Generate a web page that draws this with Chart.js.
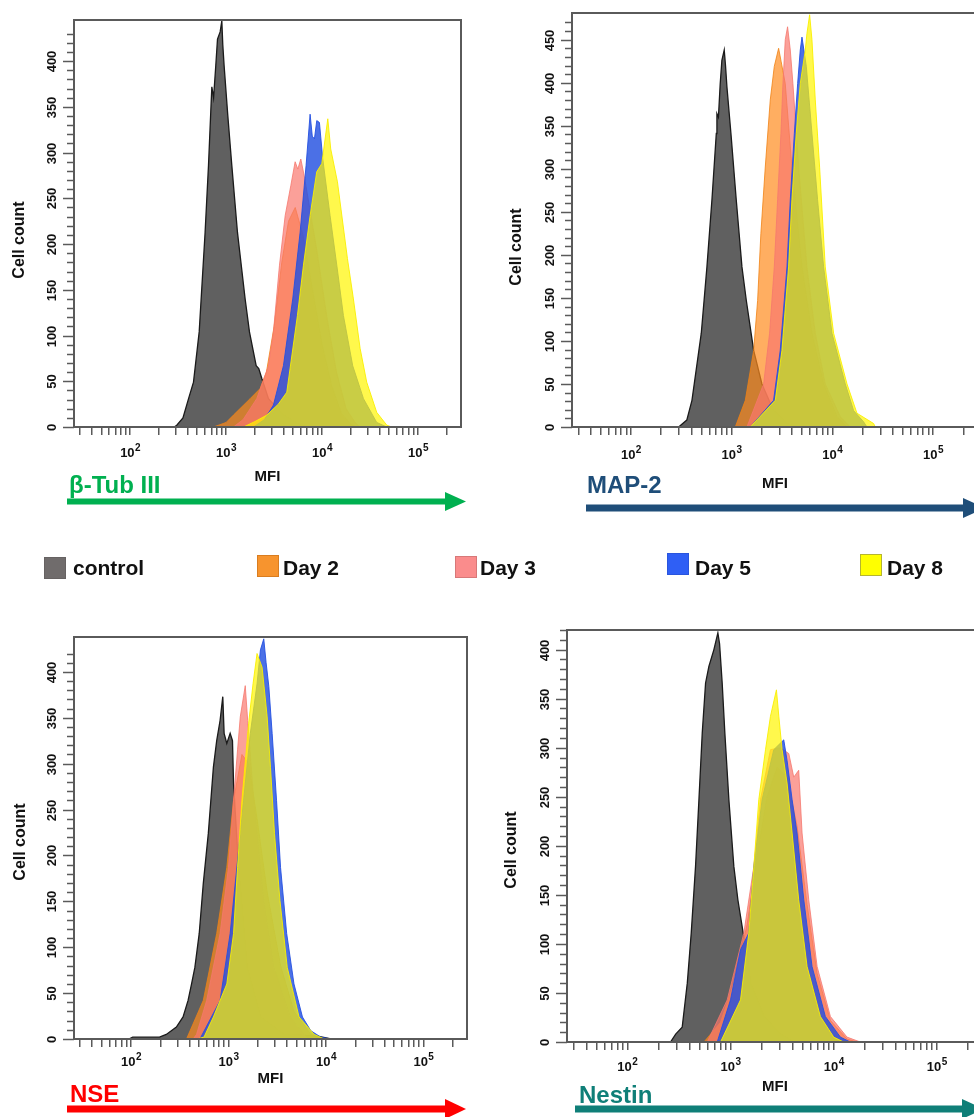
<!DOCTYPE html>
<html>
<head>
<meta charset="utf-8">
<script src="https://cdn.jsdelivr.net/npm/chart.js@4.4.1/dist/chart.umd.min.js"></script>
<style>
  html, body { margin: 0; padding: 0; background: #fff; overflow: hidden; }
  #pagina { position: relative; width: 974px; height: 1117px; overflow: hidden; font-family: "Liberation Sans", Arial, sans-serif; }
  canvas { position: absolute; }
  svg { position: absolute; left: 0; top: 0; }
  .caja { position: absolute; width: 22px; height: 22px; box-sizing: border-box; border: 1px solid; }
  .texto { position: absolute; top: 556px; line-height: 24px; font-size: 21px; font-weight: bold; color: #111; white-space: nowrap; }
</style>
</head>
<body>
<div id="pagina">
  <canvas id="tub" width="487" height="490" style="left:0;top:0"></canvas>
  <canvas id="map" width="500" height="497" style="left:487px;top:0"></canvas>
  <canvas id="nse" width="487" height="492" style="left:0;top:600px"></canvas>
  <canvas id="nes" width="500" height="500" style="left:487px;top:600px"></canvas>

  <svg width="974" height="1117">
    <g font-family="Liberation Sans, Arial, sans-serif" font-weight="bold" font-size="24">
      <text x="69" y="493" fill="#00b050">β-Tub III</text>
      <line x1="67" y1="501.5" x2="449" y2="501.5" stroke="#00b050" stroke-width="6"/>
      <polygon points="445,492 466,501.5 445,511" fill="#00b050"/>

      <text x="587" y="493" fill="#1f4e79">MAP-2</text>
      <line x1="586" y1="508" x2="966" y2="508" stroke="#1f4e79" stroke-width="7"/>
      <polygon points="963,498 985,508 963,518" fill="#1f4e79"/>

      <text x="70" y="1102" fill="#ff0000">NSE</text>
      <line x1="67" y1="1109" x2="449" y2="1109" stroke="#ff0000" stroke-width="7"/>
      <polygon points="445,1099 466,1109 445,1119" fill="#ff0000"/>

      <text x="579" y="1103" fill="#0f7f78">Nestin</text>
      <line x1="575" y1="1109" x2="965" y2="1109" stroke="#0f7f78" stroke-width="7"/>
      <polygon points="962,1099 984,1109 962,1119" fill="#0f7f78"/>
    </g>
  </svg>
</div>

<script>
// DATOS:

const nombres = ['control', 'Day 2', 'Day 3', 'Day 5', 'Day 8'];

// eje X (MFI, escala log)
const decadas = [100, 1000, 10000, 100000];
const exponentes = ['2', '3', '4', '5'];
const pasosLog = [1, 2, 3, 4, 5, 6, 7, 8, 9];
const potencias = [10, 100, 1000, 10000, 100000];

// beta-Tub III  [MFI, cell count]
const tubControl = [[288,0],[306,2],[355,10],[406,31],[457,49],[524,104],[604,213],[655,286],[692,345],[710,372],[740,360],[780,395],[813,424],[866,432],[902,444],[923,418],[953,395],[1040,341],[1146,286],[1312,213],[1578,140],[1750,104],[2056,67],[2188,64],[2355,53],[2761,31],[3954,13],[5902,2],[7079,0]];
const tubDay2 = [[738,0],[1000,5],[1191,13],[1778,31],[2259,42],[2630,60],[3162,110],[3802,180],[4467,225],[5248,240],[6310,210],[7943,150],[10000,90],[12589,45],[15849,15],[19953,3],[22387,0]];
const tubDay3 = [[1191,0],[1500,8],[2084,31],[2761,67],[3112,104],[3597,177],[4121,231],[4721,264],[5236,290],[5585,282],[5998,293],[6501,275],[7413,240],[8913,190],[11220,120],[14125,60],[17783,20],[22387,4],[25119,0]];
const tubDay5 = [[1928,0],[2500,8],[3112,24],[3954,67],[4943,140],[5902,213],[6808,286],[7499,342],[7900,318],[8318,315],[8800,335],[9376,333],[10160,293],[12110,231],[14220,177],[16670,122],[20840,67],[26980,31],[37070,5],[47210,0]];
const tubDay8 = [[1517,0],[2000,6],[2655,13],[3500,25],[4285,38],[5535,122],[6394,177],[7499,231],[8790,279],[9930,288],[11460,337],[12300,304],[14450,268],[18370,184],[21190,140],[24880,86],[29170,49],[37070,16],[47210,2],[53210,0]];

// MAP-2
const mapControl = [[298,0],[359,8],[404,31],[500,109],[569,186],[638,264],[705,341],[715,364],[740,360],[771,399],[801,426],[845,438],[870,420],[899,395],[985,341],[1112,264],[1267,186],[1400,147],[1656,89],[2000,50],[2612,19],[3548,4],[4457,0]];
const mapDay2 = [[1087,0],[1368,31],[1656,89],[1813,147],[1954,225],[2160,302],[2421,380],[2655,419],[2931,440],[3100,425],[3412,399],[3972,302],[5000,186],[6281,109],[8204,50],[11120,12],[14000,0]];
const mapDay3 = [[1419,0],[2080,50],[2384,109],[2655,186],[2864,264],[3090,341],[3236,399],[3412,450],[3597,465],[3828,438],[4064,399],[4634,302],[5598,186],[6776,109],[8511,50],[12000,12],[15100,0]];
const mapDay5 = [[1531,0],[2612,31],[3041,89],[3548,186],[3828,264],[4198,341],[4529,399],[4809,438],[5000,453],[5521,419],[6281,341],[7145,264],[8204,186],[9931,109],[13460,50],[16290,19],[20460,6],[22080,0]];
const mapDay8 = [[1531,0],[2716,31],[3162,89],[3681,186],[3972,264],[4385,341],[4809,399],[5395,438],[5598,457],[5957,479],[6281,450],[6776,380],[7482,302],[8511,186],[10300,109],[14000,50],[17580,16],[25760,4],[26730,0]];

// NSE
const nseControl = [[95,0],[104,2],[196,2],[230,5],[292,13],[342,24],[385,42],[418,60],[452,78],[501,115],[551,169],[621,224],[700,296],[757,325],[820,347],[874,373],[902,333],[961,322],[1040,333],[1099,325],[1127,278],[1268,187],[1549,78],[2128,24],[3707,5],[8204,3],[11270,0]];
const nseDay2 = [[371,0],[551,42],[757,115],[961,187],[1127,260],[1374,310],[1610,300],[1963,240],[2494,160],[3420,80],[4699,30],[6998,5],[8872,0]];
const nseDay3 = [[434,0],[470,5],[597,42],[820,115],[1000,187],[1127,260],[1239,315],[1321,351],[1486,385],[1574,347],[1816,260],[2301,151],[2924,78],[4345,24],[6457,0]];
const nseDay5 = [[509,0],[820,42],[1040,115],[1219,187],[1429,260],[1675,333],[1963,387],[2128,424],[2301,436],[2432,410],[2594,384],[2805,333],[3112,260],[3420,187],[3954,115],[4699,60],[5741,24],[6998,9],[8872,2],[11270,0]];
const nseDay8 = [[470,0],[560,2],[700,24],[961,60],[1127,115],[1239,187],[1374,260],[1610,344],[1786,387],[1963,420],[2213,405],[2494,351],[2698,296],[2965,224],[3373,151],[4009,78],[5297,24],[7568,5],[9616,0]];

// Nestin
const nesControl = [[262,0],[294,8],[340,15],[381,60],[416,111],[458,179],[494,247],[532,315],[573,366],[617,383],[690,400],[754,417],[783,406],[830,366],[881,315],[964,247],[1077,179],[1178,145],[1327,111],[1397,100],[1563,60],[2104,26],[3048,8],[4102,0]];
const nesDay2 = [[552,0],[800,20],[1077,60],[1449,120],[1811,190],[2265,250],[2831,280],[3532,270],[4416,220],[5521,140],[6904,70],[9290,22],[13460,3],[16830,0]];
const nesDay3 = [[594,0],[929,43],[1346,111],[1683,179],[1950,247],[2438,298],[3048,300],[3673,294],[4102,270],[4581,277],[4937,213],[5730,145],[6904,77],[9290,26],[13460,5],[18110,0]];
const nesDay5 = [[743,0],[1000,43],[1250,94],[1503,111],[1683,179],[2023,247],[2625,298],[3281,308],[3532,287],[3954,247],[4416,213],[5128,145],[6166,77],[8300,26],[11610,5],[14490,0]];
const nesDay8 = [[800,0],[1250,43],[1503,111],[1683,179],[1879,247],[2183,298],[2438,332],[2786,359],[2938,332],[3162,298],[3532,264],[3954,213],[4581,145],[5521,77],[7430,26],[10000,5],[12500,0]];

// COLORES:

const rellenos = ['#606060', 'rgba(255,140,30,0.7)', 'rgba(250,120,110,0.7)', 'rgba(35,80,225,0.82)', 'rgba(255,245,0,0.7)'];
const bordes = ['#1a1a1a', 'rgba(240,130,20,0.8)', 'rgba(245,120,110,0.8)', 'rgba(35,80,225,0.9)', 'rgba(250,240,0,0.9)'];
const cajaColor = ['#706c6c', '#f7942e', '#fa8c8c', '#2f5ff5', '#ffff00'];
const cajaBorde = ['#666262', '#d97d20', '#d77878', '#2a55dd', '#b5b530'];

const FUENTE = '"Liberation Sans", Arial, sans-serif';
Chart.defaults.font.family = FUENTE;

// marcas del eje X: 1..9 x 10^n dentro del rango
const marcasX = [];
potencias.forEach(p => pasosLog.forEach(s => {
    const v = p * s;
    if (v >= 30 && v <= 200000) marcasX.push(v);
}));

// PLUGIN: marco, eje Y a mano (etiquetas giradas) y etiquetas 10^n
const marco = {
    id: 'marco',
    afterDatasetsDraw(chart, args, p) {
        const { ctx, chartArea: a, scales: { x, y } } = chart;
        ctx.save();
        ctx.strokeStyle = '#5a5a5a';
        ctx.lineWidth = 2;
        ctx.strokeRect(a.left, a.top, a.right - a.left, a.bottom - a.top);

        ctx.fillStyle = '#111';
        ctx.textAlign = 'center';
        ctx.textBaseline = 'middle';
        y.ticks.forEach(t => {
            if (t.value % 10 !== 0) return;
            const py = Math.round(y.getPixelForValue(t.value)) + 0.5;
            const mayor = t.value % 50 === 0;
            ctx.lineWidth = 1.5;
            ctx.strokeStyle = '#5a5a5a';
            ctx.beginPath();
            ctx.moveTo(a.left - (mayor ? 11 : 7), py);
            ctx.lineTo(a.left, py);
            ctx.stroke();
            if (mayor) {
                ctx.save();
                ctx.font = 'bold 13px ' + FUENTE;
                ctx.translate(a.left - 22, py);
                ctx.rotate(-Math.PI / 2);
                ctx.fillText(String(t.value), 0, 0);
                ctx.restore();
            }
        });

        // titulo del eje Y
        ctx.save();
        ctx.font = 'bold 16px ' + FUENTE;
        ctx.translate(p.tituloX, p.tituloY);
        ctx.rotate(-Math.PI / 2);
        ctx.fillText('Cell count', 0, 0);
        ctx.restore();

        // etiquetas 10^n
        ctx.textAlign = 'left';
        decadas.forEach((v, i) => {
            const px = x.getPixelForValue(v);
            const py = a.bottom + p.gapX;
            ctx.font = 'bold 13px ' + FUENTE;
            const w1 = ctx.measureText('10').width;
            ctx.font = 'bold 10px ' + FUENTE;
            const w2 = ctx.measureText(exponentes[i]).width;
            const x0 = px - (w1 + w2) / 2;
            ctx.font = 'bold 13px ' + FUENTE;
            ctx.fillText('10', x0, py);
            ctx.font = 'bold 10px ' + FUENTE;
            ctx.fillText(exponentes[i], x0 + w1 + 0.5, py - 5);
        });
        ctx.restore();
    }
};

// FUNCIONES:

function crearPanel(id, series, p) {
    const ctx = document.getElementById(id).getContext('2d');
    return new Chart(ctx, {
        type: 'line',
        data: {
            datasets: series.map((datos, i) => ({
                label: nombres[i],
                data: datos,
                backgroundColor: rellenos[i],
                borderColor: bordes[i],
                borderWidth: i === 0 ? 1.3 : 1,
                pointRadius: 0,
                fill: 'origin',
                tension: 0,
                order: series.length - i
            }))
        },
        options: {
            responsive: false,
            animation: false,
            devicePixelRatio: 1,
            layout: { padding: { left: 0, top: p.top, right: p.right, bottom: 0 } },
            plugins: {
                legend: { display: false },
                tooltip: { enabled: false },
                marco: p
            },
            scales: {
                x: {
                    type: 'logarithmic',
                    min: 26,
                    max: 280000,
                    afterBuildTicks: eje => { eje.ticks = marcasX.map(v => ({ value: v })); },
                    afterFit: eje => { eje.height = p.altoX; },
                    ticks: { display: false },
                    grid: { drawOnChartArea: false, drawTicks: true, tickLength: 8, color: '#5a5a5a', lineWidth: 1.5 },
                    border: { display: false },
                    title: {
                        display: true,
                        text: 'MFI',
                        color: '#111',
                        font: { size: 15, weight: 'bold' },
                        padding: { top: 0, bottom: 4 }
                    }
                },
                y: {
                    min: 0,
                    max: p.yMax,
                    ticks: { display: false, stepSize: 10 },
                    grid: { display: false },
                    border: { display: false },
                    afterFit: eje => { eje.width = p.anchoY; }
                }
            }
        },
        plugins: [marco]
    });
}

function crearLeyenda() {
    const pagina = document.getElementById('pagina');
    const cajaX = [44, 257, 455, 667, 860];
    const cajaY = [557, 555, 556, 553, 554];
    const textoX = [73, 283, 480, 695, 887];
    nombres.forEach((nombre, i) => {
        pagina.innerHTML += `
            <div class="caja" style="left:${cajaX[i]}px;top:${cajaY[i]}px;background:${cajaColor[i]};border-color:${cajaBorde[i]}"></div>
            <div class="texto" style="left:${textoX[i]}px">${nombre}</div>
        `;
    });
}

crearLeyenda();

crearPanel('tub', [tubControl, tubDay2, tubDay3, tubDay5, tubDay8],
    { top: 20, right: 26, anchoY: 74, altoX: 63, yMax: 445, tituloX: 20, tituloY: 240, gapX: 26 });
crearPanel('map', [mapControl, mapDay2, mapDay3, mapDay5, mapDay8],
    { top: 13, right: 9, anchoY: 85, altoX: 70, yMax: 481, tituloX: 30, tituloY: 247, gapX: 28 });
crearPanel('nse', [nseControl, nseDay2, nseDay3, nseDay5, nseDay8],
    { top: 37, right: 20, anchoY: 74, altoX: 53, yMax: 438, tituloX: 21, tituloY: 242, gapX: 23 });
crearPanel('nes', [nesControl, nesDay2, nesDay3, nesDay5, nesDay8],
    { top: 30, right: 4, anchoY: 80, altoX: 58, yMax: 420, tituloX: 25, tituloY: 250, gapX: 25 });
</script>
</body>
</html>
